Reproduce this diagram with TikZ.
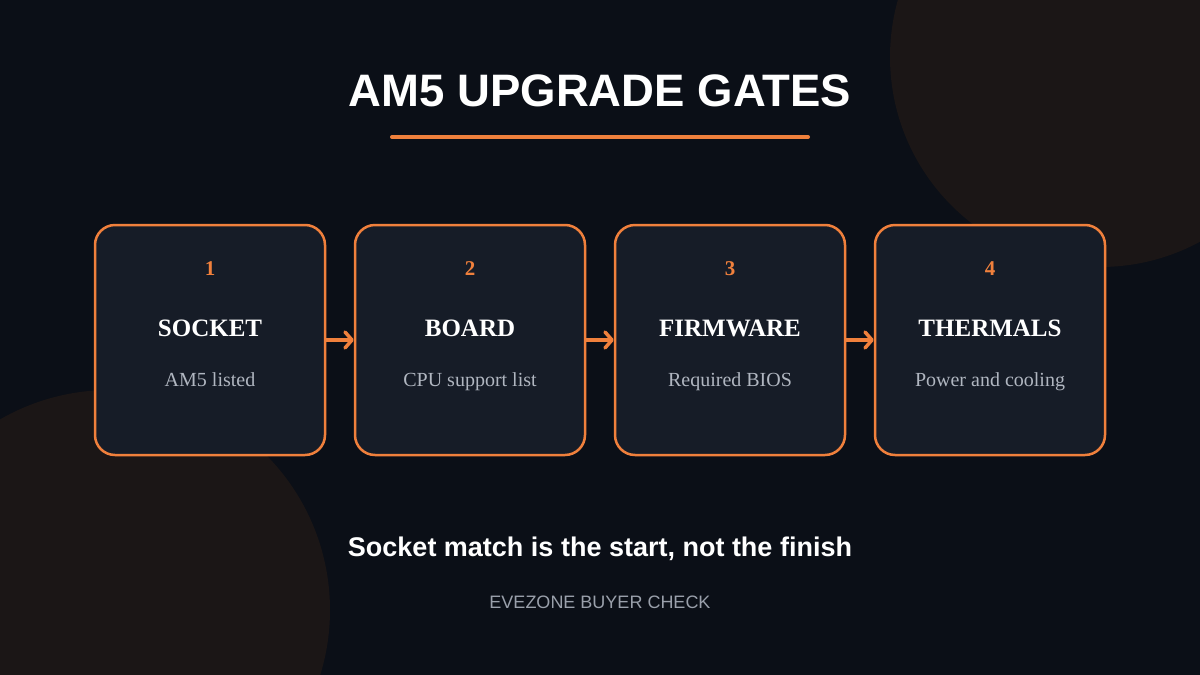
\documentclass[tikz,border=0pt]{standalone}
\usepackage{fontspec}
\setmainfont{Liberation Serif}
\setsansfont{Liberation Sans}
\usetikzlibrary{arrows.meta}
\definecolor{bgc}{HTML}{0B0F17}
\definecolor{blob}{HTML}{1B1616}
\definecolor{boxfill}{HTML}{161C27}
\definecolor{accent}{HTML}{F0803C}
\definecolor{subgray}{HTML}{B0B6C0}
\definecolor{footgray}{HTML}{9AA0AB}
\tikzset{
  gatebox/.style={draw=accent, line width=2.5pt, fill=boxfill, rounded corners=20pt,
    minimum width=230pt, minimum height=230pt, inner sep=0pt},
  gatenum/.style={anchor=base, text=accent, font=\fontsize{21}{24}\selectfont\bfseries},
  gatetitle/.style={anchor=base, text=white, font=\fontsize{25}{28}\selectfont\bfseries},
  gatesub/.style={anchor=base, text=subgray, font=\fontsize{20}{23}\selectfont},
  flowarrow/.style={draw=accent, line width=3.5pt, -{Straight Barb[length=7pt,width=16pt,line width=3.5pt,round]}}
}
\begin{document}
\begin{tikzpicture}[x=1pt,y=-1pt]
\fill[bgc] (0,0) rectangle (1200,675);
\useasboundingbox (0,0) rectangle (1200,675);
\begin{scope}
\clip (0,0) rectangle (1200,675);
\fill[blob] (1100,57) circle (210);
\fill[blob] (110,610) circle (220);
\end{scope}
\node[anchor=base, text=white, font=\sffamily\bfseries\fontsize{45.5}{50}\selectfont] (title) at (600,106) {AM5 UPGRADE GATES};
\draw[accent, line width=4pt, line cap=round] (392,137) coordinate (ul1) -- (808,137) coordinate (ul2);
\node[gatebox] (b1) at (210,340) {};
\node[gatebox] (b2) at (470,340) {};
\node[gatebox] (b3) at (730,340) {};
\node[gatebox] (b4) at (990,340) {};
\foreach \i/\x/\t/\s in {1/210/SOCKET/AM5 listed, 2/470/BOARD/CPU support list, 3/730/FIRMWARE/Required BIOS, 4/990/THERMALS/Power and cooling}{
  \node[gatenum] (n\i) at (\x,275) {\i};
  \node[gatetitle] (t\i) at (\x,336) {\t};
  \node[gatesub] (s\i) at (\x,386) {\s};
}
\draw[flowarrow] (b1.east) -- (b2.west);
\draw[flowarrow] (b2.east) -- (b3.west);
\draw[flowarrow] (b3.east) -- (b4.west);
\node[anchor=base, text=white, font=\sffamily\bfseries\fontsize{27}{30}\selectfont] (tag) at (600,556) {Socket match is the start, not the finish};
\node[anchor=base, text=footgray, font=\sffamily\fontsize{18}{21}\selectfont] (foot) at (600,608) {EVEZONE BUYER CHECK};
\end{tikzpicture}
\end{document}
